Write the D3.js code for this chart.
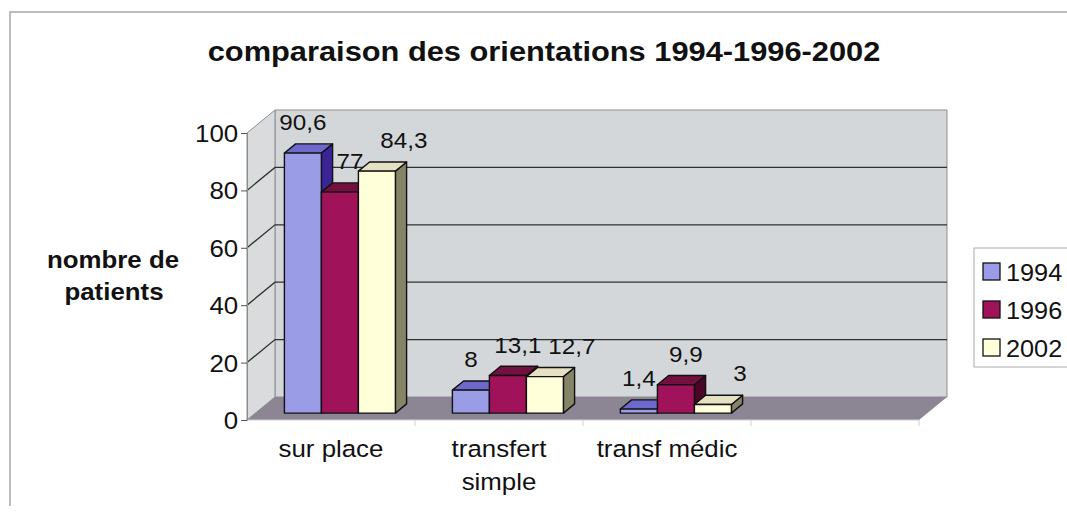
<!DOCTYPE html>
<html>
<head>
<meta charset="utf-8">
<script src="https://cdn.jsdelivr.net/npm/d3@7"></script>
<style>
  body { margin: 0; background: #fff; }
  text { font-family: Arial, "Liberation Sans", sans-serif; fill: #111; }
</style>
</head>
<body>
<script>
  // données
  const categories = ["sur place", "transfert\nsimple", "transf médic", ""];
  const series = ["1994", "1996", "2002"];
  const v1994 = [90.6, 8, 1.4];
  const v1996 = [77, 13.1, 9.9];
  const v2002 = [84.3, 12.7, 3];
  const labels1994 = ["90,6", "8", "1,4"];
  const labels1996 = ["77", "13,1", "9,9"];
  const labels2002 = ["84,3", "12,7", "3"];
  const yTicks = [0, 20, 40, 60, 80, 100];

  const values = [v1994, v1996, v2002];
  const labels = [labels1994, labels1996, labels2002];
  const front = ["#9a9ce6", "#a0125a", "#ffffd9"];
  const top_ = ["#6f68cc", "#741040", "#e6e0c2"];
  const side = ["#3a2496", "#4a0626", "#858467"];
  const labelShift = [0, 10, 27];

  const W = 1067, H = 521;
  const DX = 28, DY = -23;          // profondeur du plancher
  const d0 = 0.3, d1 = 0.7;         // profondeur des barres

  const svg = d3.select("body").append("svg").attr("width", W).attr("height", H);

  // cadre extérieur
  svg.append("path").attr("d", "M10,506V12H1067").attr("fill", "none").attr("stroke", "#a8a8a8").attr("stroke-width", 1.5);

  const xScale = d3.scaleBand().domain(categories).range([247, 919]);
  const xInner = d3.scaleBand().domain(series).range([29, 140]);
  const yScale = d3.scaleLinear().domain([0, 100]).range([420, 133]);

  function P(x, v, d) { return [x + d * DX, yScale(v) + d * DY]; }
  const line = d3.line();

  function txt(g, x, y, s, size, weight, anchor) {
    return g.append("text")
      .attr("transform", `translate(${x},${y}) scale(1.1,1)`)
      .attr("text-anchor", anchor || "middle")
      .style("font-size", size + "px")
      .style("font-weight", weight || "normal")
      .text(s);
  }

  const x0 = xScale.range()[0], x1 = xScale.range()[1];

  // murs
  svg.append("path").attr("d", line([P(x0, 0, 1), P(x1, 0, 1), P(x1, 100, 1), P(x0, 100, 1)]) + "Z")
    .attr("fill", "#d4d7da").attr("stroke", "#8d8d8d");
  svg.append("path").attr("d", line([P(x0, 0, 0), P(x0, 0, 1), P(x0, 100, 1), P(x0, 100, 0)]) + "Z")
    .attr("fill", "#d9dbdd").attr("stroke", "#8d8d8d");

  // quadrillage
  yTicks.filter(v => v > 0 && v < 100).forEach(v => {
    svg.append("path").attr("d", line([P(x0, v, 0), P(x0, v, 1), P(x1, v, 1)]))
      .attr("fill", "none").attr("stroke", "#2c332e").attr("stroke-width", 1.3);
  });

  // plancher
  svg.append("path").attr("d", line([P(x0, 0, 0), P(x1, 0, 0), P(x1, 0, 1), P(x0, 0, 1)]) + "Z")
    .attr("fill", "#8b8594");

  // axe x
  svg.append("line").attr("x1", x0).attr("x2", x1).attr("y1", yScale(0)).attr("y2", yScale(0))
    .attr("stroke", "#cfcfcf");
  categories.forEach((c, i) => {
    const xt = xScale(c) + xScale.bandwidth();
    svg.append("line").attr("x1", xt).attr("x2", xt).attr("y1", yScale(0)).attr("y2", yScale(0) + 6)
      .attr("stroke", "#cfcfcf");
    c.split("\n").forEach((s, k) => {
      if (s) txt(svg, xScale(c) + xScale.bandwidth() / 2, 457 + k * 33, s, 23.5);
    });
  });

  // axe y
  const yAxis = d3.axisLeft(yScale).tickValues(yTicks).tickSize(6).tickPadding(2);
  const gy = svg.append("g").attr("transform", `translate(${x0},0)`).call(yAxis);
  gy.select(".domain").attr("stroke", "#8d8d8d");
  gy.selectAll(".tick line").attr("stroke", "#555");
  gy.selectAll(".tick text")
    .attr("transform", "scale(1.1,1)")
    .attr("dy", "0.36em")
    .style("font-size", "23.5px")
    .style("font-family", "Arial, 'Liberation Sans', sans-serif")
    .attr("fill", "#111");

  // barres 3D
  const bars = svg.append("g");
  categories.forEach((c, i) => {
    series.forEach((s, j) => {
      const v = values[j][i];
      if (v === undefined) return;
      const xa = xScale(c) + xInner(s), xb = xa + xInner.bandwidth();
      const g = bars.append("g").attr("stroke", "#111").attr("stroke-width", 1.4).attr("stroke-linejoin", "round");
      g.append("path").attr("d", line([P(xb, 0, d0), P(xb, 0, d1), P(xb, v, d1), P(xb, v, d0)]) + "Z").attr("fill", side[j]);
      g.append("path").attr("d", line([P(xa, v, d0), P(xb, v, d0), P(xb, v, d1), P(xa, v, d1)]) + "Z").attr("fill", top_[j]);
      g.append("path").attr("d", line([P(xa, 0, d0), P(xb, 0, d0), P(xb, v, d0), P(xa, v, d0)]) + "Z").attr("fill", front[j]);
    });
  });

  // étiquettes de données
  categories.forEach((c, i) => {
    series.forEach((s, j) => {
      const v = values[j][i];
      if (v === undefined) return;
      const xa = xScale(c) + xInner(s) + xInner.bandwidth() / 2;
      const p = P(xa, v, d0);
      txt(svg, p[0] + labelShift[j], p[1] - 23, labels[j][i], 22);
    });
  });

  // titre
  txt(svg, 544, 61, "comparaison des orientations 1994-1996-2002", 28, "bold");

  // titre de l'axe y
  txt(svg, 113, 268, "nombre de", 23.5, "bold");
  txt(svg, 114, 300, "patients", 23.5, "bold");

  // légende
  const leg = svg.append("g");
  leg.append("rect").attr("x", 974).attr("y", 248).attr("width", 110).attr("height", 119)
    .attr("fill", "#fff").attr("stroke", "#aaa");
  series.forEach((s, j) => {
    const cy = 272 + j * 38;
    leg.append("rect").attr("x", 983).attr("y", cy - 9).attr("width", 17).attr("height", 17)
      .attr("fill", front[j]).attr("stroke", "#111").attr("stroke-width", 1.3);
    txt(leg, 1006, cy + 8.5, s, 23, "normal", "start");
  });
</script>
</body>
</html>
